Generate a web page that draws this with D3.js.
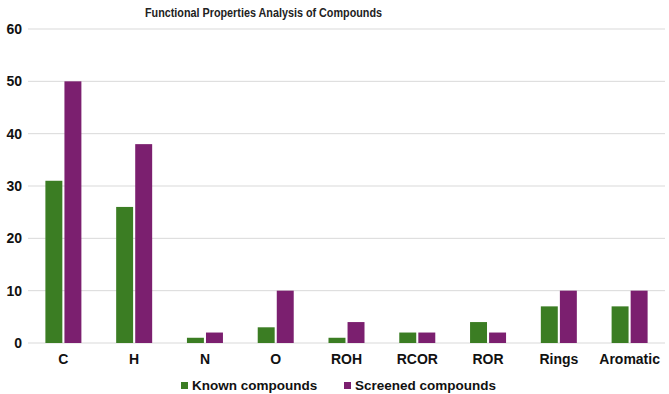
<!DOCTYPE html>
<html>
<head>
<meta charset="utf-8">
<script src="https://cdn.jsdelivr.net/npm/d3@7"></script>
<style>
  body { margin: 0; background: #fff; }
  svg { font-family: "Liberation Sans", Arial, sans-serif; }
</style>
</head>
<body>
<svg id="chart" width="669" height="394"></svg>
<script>
// data
const categories = ['C', 'H', 'N', 'O', 'ROH', 'RCOR', 'ROR', 'Rings', 'Aromatic'];
const knownValues = [31, 26, 1, 3, 1, 2, 4, 7, 7];
const screenedValues = [50, 38, 2, 10, 4, 2, 2, 10, 10];
const seriesNames = ['Known compounds', 'Screened compounds'];
const yTicks = [0, 10, 20, 30, 40, 50, 60];

const colors = ['#3b7d23', '#7b1f6f'];
const W = 669, H = 394;
const m = { top: 29, right: 4, bottom: 51, left: 28 };

const svg = d3.select('#chart');
const g = svg.append('g').attr('transform', `translate(${m.left},${m.top})`);
const w = W - m.left - m.right;
const h = H - m.top - m.bottom;

const x = d3.scaleBand().domain(categories).range([0, w]);
const y = d3.scaleLinear().domain([0, 60]).range([h, 0]);
const xs = d3.scaleBand().domain([0, 1]).range([x.bandwidth() / 2 - 18, x.bandwidth() / 2 + 18]).paddingInner(0.11);

// Title (narrow in the original, so squeeze it)
svg.append('text')
    .attr('x', 145).attr('y', 17)
    .attr('font-size', '13px')
    .attr('font-weight', 'bold')
    .attr('fill', '#222')
    .attr('textLength', 237)
    .attr('lengthAdjust', 'spacingAndGlyphs')
    .text('Functional Properties Analysis of Compounds');

// Grid
g.selectAll('.grid')
    .data(yTicks)
    .enter()
    .append('line')
    .attr('x1', 0).attr('x2', w)
    .attr('y1', d => y(d)).attr('y2', d => y(d))
    .attr('stroke', '#d9d9d9')
    .attr('stroke-width', 1);

// Y axis labels
const yAxis = g.append('g')
    .call(d3.axisLeft(y).tickValues(yTicks).tickSize(0).tickPadding(6));
yAxis.select('.domain').remove();
yAxis.selectAll('text')
    .attr('font-size', '14px')
    .attr('font-weight', 'bold')
    .attr('font-family', '"Liberation Sans", Arial, sans-serif')
    .attr('fill', '#111');

// X axis labels
const xAxis = g.append('g')
    .attr('transform', `translate(0,${h})`)
    .call(d3.axisBottom(x).tickSize(0).tickPadding(11));
xAxis.select('.domain').remove();
xAxis.selectAll('text')
    .attr('font-size', '14px')
    .attr('font-weight', 'bold')
    .attr('font-family', '"Liberation Sans", Arial, sans-serif')
    .attr('fill', '#111');

// Bars
const series = [knownValues, screenedValues];
series.forEach((vals, si) => {
    g.selectAll('.bar' + si)
        .data(vals)
        .enter()
        .append('rect')
        .attr('x', (d, i) => x(categories[i]) + xs(si))
        .attr('y', d => y(d))
        .attr('width', xs.bandwidth())
        .attr('height', d => h - y(d))
        .attr('fill', colors[si]);
});

// Legend
const legendX = [181, 344];
seriesNames.forEach((name, i) => {
    const lg = svg.append('g').attr('transform', `translate(${legendX[i]},382)`);
    lg.append('rect').attr('width', 7).attr('height', 7).attr('fill', colors[i]);
    lg.append('text')
        .attr('x', 11).attr('y', 8)
        .attr('font-size', '13.5px')
        .attr('font-weight', 'bold')
        .attr('fill', '#111')
        .text(name);
});
</script>
</body>
</html>
